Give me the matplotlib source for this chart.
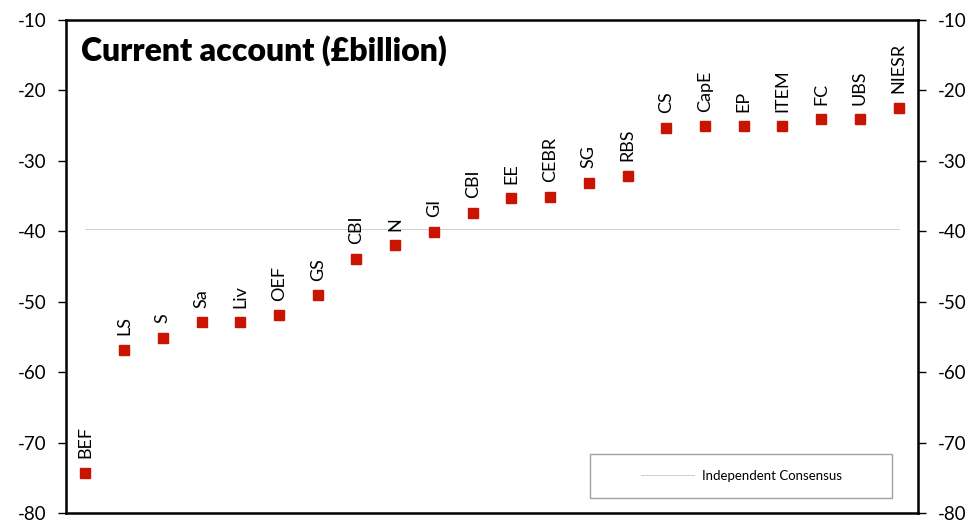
import matplotlib
matplotlib.use("Agg")
import matplotlib.pyplot as plt
import matplotlib.patches as patches
import numpy as np

plt.rcParams['font.family'] = ['Lato', 'DejaVu Sans']
plt.rcParams['axes.unicode_minus'] = False

# forecasters and their current account forecasts (GBP billion)
names = ["BEF", "LS", "S", "Sa", "Liv", "OEF", "GS", "CBI", "N", "GI", "CBI",
         "EE", "CEBR", "SG", "RBS", "CS", "CapE", "EP", "ITEM", "FC", "UBS", "NIESR"]
values = [-74.3, -56.8, -55.1, -52.9, -52.9, -51.9, -49.1, -43.9, -42.0, -40.1, -37.4,
          -35.3, -35.1, -33.1, -32.1, -25.3, -25.1, -25.1, -25.1, -24.1, -24.1, -22.5]
consensus = -39.7

x = np.arange(len(names))

fig = plt.figure(figsize=(9.72, 5.27), dpi=100)
ax = fig.add_axes([66/972, 14/527, 852/972, 493/527])

ax.plot([x[0], x[-1]], [consensus, consensus], color='#cfcfcf', lw=0.7,
        label='Independent Consensus')
ax.plot(x, values, 's', color='#c81400', markersize=6.5, linestyle='none')

for xi, v, n in zip(x, values, names):
    ax.annotate(n, (xi, v), xytext=(0, 10.5), textcoords='offset points',
                rotation=90, ha='center', va='bottom', fontsize=13)

ax.set_xlim(-0.5, len(names) - 0.5)
ax.set_ylim(-80, -10)
ax.set_yticks(np.arange(-80, -9, 10))
ax.set_xticks([])
ax.tick_params(axis='y', which='both', left=True, right=True, labelleft=True,
               labelright=True, direction='out', length=6, width=1,
               labelsize=13.5, pad=8)
for s in ax.spines.values():
    s.set_linewidth(1.8)

ax.text(0.018, 0.97, "Current account (£billion)", transform=ax.transAxes,
        fontsize=23, fontweight='heavy', ha='left', va='top')

# legend box
ax.add_patch(patches.Rectangle((0.615, 0.03), 0.355, 0.09, transform=ax.transAxes,
                               fill=False, edgecolor='#a0a0a0', lw=1))
leg = ax.legend(loc='center', bbox_to_anchor=(0.7925, 0.075), frameon=False,
                fontsize=9.5, handlelength=4, handletextpad=0.6)

fig.savefig("out.png", dpi=100)
